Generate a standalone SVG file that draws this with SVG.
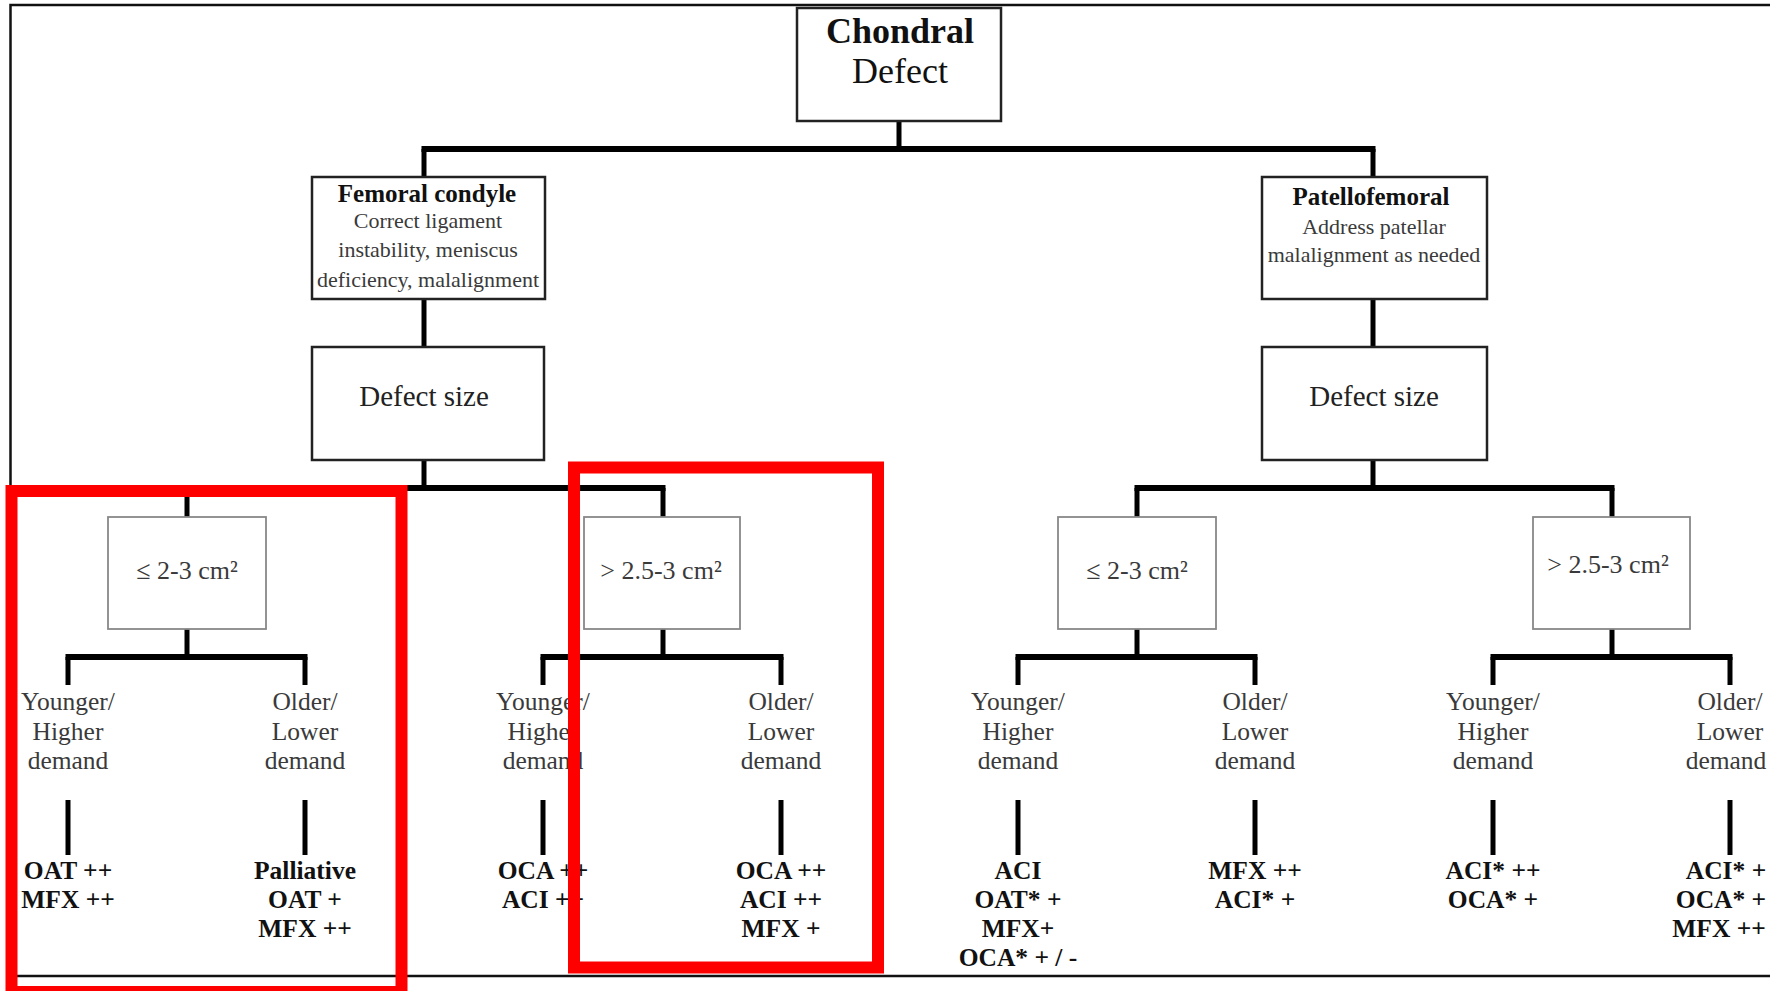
<svg xmlns="http://www.w3.org/2000/svg" width="1770" height="991" viewBox="0 0 1770 991">
<style>
.bg{fill:#fff}
.frame{stroke:#111;stroke-width:2.5;fill:none}
.box{fill:#fff;stroke:#222;stroke-width:2.5}
.sbox{fill:#fff;stroke:#888;stroke-width:1.8}
.t{font-family:"Liberation Serif","Times New Roman",serif;text-anchor:middle}
.reg{fill:#3a3a3a}
.b{font-weight:bold;fill:#111}
.conn line{stroke:#000;fill:none;stroke-linecap:butt}
.v{stroke-width:5}
.h{stroke-width:6}
.red{fill:none;stroke:#ff0000;stroke-width:12}
</style>
<rect class="bg" x="0" y="0" width="1770" height="991"/>
<g id="frame">
<path class="frame" d="M1770 5 H10.5 V976 H1770"/>
</g>
<g id="connectors" class="conn">
<line class="v" x1="899" y1="121" x2="899" y2="149"/>
<line class="h" x1="421.5" y1="149" x2="1375.5" y2="149"/>
<line class="v" x1="424" y1="149" x2="424" y2="177"/>
<line class="v" x1="1373" y1="149" x2="1373" y2="177"/>
<line class="v" x1="424" y1="299" x2="424" y2="347"/>
<line class="v" x1="1373" y1="299" x2="1373" y2="347"/>
<line class="v" x1="424" y1="460" x2="424" y2="488"/>
<line class="v" x1="1373" y1="460" x2="1373" y2="488"/>
<line class="h" x1="184.5" y1="488" x2="665.5" y2="488"/>
<line class="h" x1="1134.5" y1="488" x2="1614.5" y2="488"/>
<line class="v" x1="187" y1="488" x2="187" y2="517"/>
<line class="v" x1="663" y1="488" x2="663" y2="517"/>
<line class="v" x1="1137" y1="488" x2="1137" y2="517"/>
<line class="v" x1="1612" y1="488" x2="1612" y2="517"/>
<line class="v" x1="187" y1="629" x2="187" y2="657"/>
<line class="v" x1="663" y1="629" x2="663" y2="657"/>
<line class="v" x1="1137" y1="629" x2="1137" y2="657"/>
<line class="v" x1="1612" y1="629" x2="1612" y2="657"/>
<line class="h" x1="65.5" y1="657" x2="307.5" y2="657"/>
<line class="h" x1="540.5" y1="657" x2="783.5" y2="657"/>
<line class="h" x1="1015.5" y1="657" x2="1257.5" y2="657"/>
<line class="h" x1="1490.5" y1="657" x2="1732.5" y2="657"/>
<line class="v" x1="68" y1="657" x2="68" y2="685"/>
<line class="v" x1="305" y1="657" x2="305" y2="685"/>
<line class="v" x1="543" y1="657" x2="543" y2="685"/>
<line class="v" x1="781" y1="657" x2="781" y2="685"/>
<line class="v" x1="1018" y1="657" x2="1018" y2="685"/>
<line class="v" x1="1255" y1="657" x2="1255" y2="685"/>
<line class="v" x1="1493" y1="657" x2="1493" y2="685"/>
<line class="v" x1="1730" y1="657" x2="1730" y2="685"/>
<line class="v" x1="68" y1="800" x2="68" y2="855"/>
<line class="v" x1="305" y1="800" x2="305" y2="855"/>
<line class="v" x1="543" y1="800" x2="543" y2="855"/>
<line class="v" x1="781" y1="800" x2="781" y2="855"/>
<line class="v" x1="1018" y1="800" x2="1018" y2="855"/>
<line class="v" x1="1255" y1="800" x2="1255" y2="855"/>
<line class="v" x1="1493" y1="800" x2="1493" y2="855"/>
<line class="v" x1="1730" y1="800" x2="1730" y2="855"/>
</g>
<g id="chondral">
<rect class="box" x="797" y="8" width="204" height="113"/>
<text class="t b" x="900" y="43" font-size="36">Chondral</text>
<text class="t" x="900" y="83" font-size="36" fill="#111">Defect</text>
</g>
<g id="femoral">
<rect class="box" x="312" y="177" width="233" height="122"/>
<text class="t b" x="427" y="202" font-size="25">Femoral condyle</text>
<text class="t reg" x="428" y="228" font-size="22">Correct ligament</text>
<text class="t reg" x="428" y="257" font-size="22">instability, meniscus</text>
<text class="t reg" x="428" y="287" font-size="22">deficiency, malalignment</text>
</g>
<g id="patellofemoral">
<rect class="box" x="1262" y="177" width="225" height="122"/>
<text class="t b" x="1371" y="205" font-size="25">Patellofemoral</text>
<text class="t reg" x="1374" y="234" font-size="22">Address patellar</text>
<text class="t reg" x="1374" y="262" font-size="22">malalignment as needed</text>
</g>
<g id="defect-size-left">
<rect class="box" x="312" y="347" width="232" height="113"/>
<text class="t" x="424" y="406" font-size="29" fill="#222">Defect size</text>
</g>
<g id="defect-size-right">
<rect class="box" x="1262" y="347" width="225" height="113"/>
<text class="t" x="1374" y="406" font-size="29" fill="#222">Defect size</text>
</g>
<g id="size-fc-small">
<rect class="sbox" x="108" y="517" width="158" height="112"/>
<text class="t reg" x="187" y="579" font-size="26">≤ 2-3 cm²</text>
</g>
<g id="size-fc-large">
<rect class="sbox" x="584" y="517" width="156" height="112"/>
<text class="t reg" x="661" y="579" font-size="26">&gt; 2.5-3 cm²</text>
</g>
<g id="size-pf-small">
<rect class="sbox" x="1058" y="517" width="158" height="112"/>
<text class="t reg" x="1137" y="579" font-size="26">≤ 2-3 cm²</text>
</g>
<g id="size-pf-large">
<rect class="sbox" x="1533" y="517" width="157" height="112"/>
<text class="t reg" x="1608" y="573" font-size="26">&gt; 2.5-3 cm²</text>
</g>
<g id="fc-small-younger">
<text class="t reg" font-size="25.5"><tspan x="68" y="710">Younger/</tspan><tspan x="68" y="740">Higher</tspan><tspan x="68" y="769">demand</tspan></text>
<text class="t b" font-size="25.5"><tspan x="68" y="879">OAT ++</tspan><tspan x="68" y="908">MFX ++</tspan></text>
</g>
<g id="fc-small-older">
<text class="t reg" font-size="25.5"><tspan x="305" y="710">Older/</tspan><tspan x="305" y="740">Lower</tspan><tspan x="305" y="769">demand</tspan></text>
<text class="t b" font-size="25.5"><tspan x="305" y="879">Palliative</tspan><tspan x="305" y="908">OAT +</tspan><tspan x="305" y="937">MFX ++</tspan></text>
</g>
<g id="fc-large-younger">
<text class="t reg" font-size="25.5"><tspan x="543" y="710">Younger/</tspan><tspan x="543" y="740">Higher</tspan><tspan x="543" y="769">demand</tspan></text>
<text class="t b" font-size="25.5"><tspan x="543" y="879">OCA ++</tspan><tspan x="543" y="908">ACI ++</tspan></text>
</g>
<g id="fc-large-older">
<text class="t reg" font-size="25.5"><tspan x="781" y="710">Older/</tspan><tspan x="781" y="740">Lower</tspan><tspan x="781" y="769">demand</tspan></text>
<text class="t b" font-size="25.5"><tspan x="781" y="879">OCA ++</tspan><tspan x="781" y="908">ACI ++</tspan><tspan x="781" y="937">MFX +</tspan></text>
</g>
<g id="pf-small-younger">
<text class="t reg" font-size="25.5"><tspan x="1018" y="710">Younger/</tspan><tspan x="1018" y="740">Higher</tspan><tspan x="1018" y="769">demand</tspan></text>
<text class="t b" font-size="25.5"><tspan x="1018" y="879">ACI</tspan><tspan x="1018" y="908">OAT* +</tspan><tspan x="1018" y="937">MFX+</tspan><tspan x="1018" y="966">OCA* + / -</tspan></text>
</g>
<g id="pf-small-older">
<text class="t reg" font-size="25.5"><tspan x="1255" y="710">Older/</tspan><tspan x="1255" y="740">Lower</tspan><tspan x="1255" y="769">demand</tspan></text>
<text class="t b" font-size="25.5"><tspan x="1255" y="879">MFX ++</tspan><tspan x="1255" y="908">ACI* +</tspan></text>
</g>
<g id="pf-large-younger">
<text class="t reg" font-size="25.5"><tspan x="1493" y="710">Younger/</tspan><tspan x="1493" y="740">Higher</tspan><tspan x="1493" y="769">demand</tspan></text>
<text class="t b" font-size="25.5"><tspan x="1493" y="879">ACI* ++</tspan><tspan x="1493" y="908">OCA* +</tspan></text>
</g>
<g id="pf-large-older">
<text class="t reg" font-size="25.5"><tspan x="1730" y="710">Older/</tspan><tspan x="1730" y="740">Lower</tspan><tspan x="1726" y="769">demand</tspan></text>
<text class="t b" font-size="25.5"><tspan x="1726" y="879">ACI* +</tspan><tspan x="1721" y="908">OCA* +</tspan><tspan x="1719" y="937">MFX ++</tspan></text>
</g>
<g id="highlights">
<rect class="red" x="11.5" y="491" width="390" height="501"/>
<rect class="red" x="574" y="467.5" width="304" height="500"/>
</g>
</svg>
